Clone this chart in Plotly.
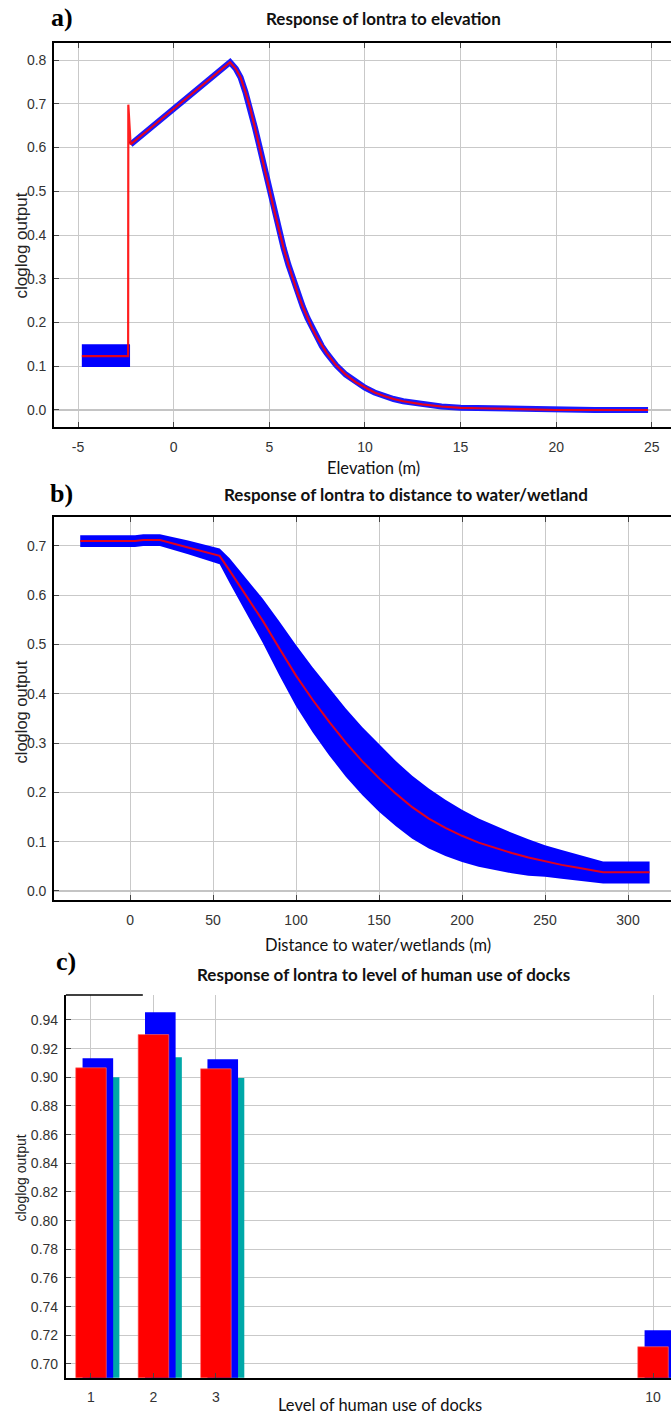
import plotly.graph_objects as go

W, H = 671, 1414

# ---------------- Panel a: elevation ----------------
elev_x = [-4.8, -2.38, -2.37, -2.25, -1.0, 0.0, 1.0, 2.0, 2.8, 2.95, 3.25, 3.5, 3.75, 4.0,
          4.25, 4.5, 4.75, 5.0, 5.25, 5.5, 5.75, 6.0, 6.25, 6.5, 6.75, 7.0, 7.25, 7.5, 7.75,
          8.0, 8.5, 9.0, 9.5, 10.0, 10.5, 11.0, 11.5, 12.0, 13.0, 14.0, 15.0, 16.0, 17.0,
          18.0, 19.0, 20.0, 22.0, 24.8]
elev_y = [0.123, 0.123, 0.698, 0.607, 0.652, 0.688, 0.724, 0.760, 0.789, 0.795, 0.780,
          0.760, 0.727, 0.690, 0.645, 0.600, 0.552, 0.505, 0.457, 0.412, 0.370, 0.332,
          0.297, 0.265, 0.236, 0.210, 0.186, 0.165, 0.146, 0.130, 0.102, 0.081, 0.064,
          0.051, 0.040, 0.032, 0.025, 0.020, 0.013, 0.008, 0.005, 0.004, 0.003, 0.003,
          0.001, 0.000, 0.000, 0.000]
elev_box_x = [-4.8, -2.28]
elev_box_lo = [0.098, 0.098]
elev_box_hi = [0.150, 0.150]
elev_ticks = [-5, 0, 5, 10, 15, 20, 25]

# ---------------- Panel b: distance to water ----------------
dist_x = [-30, 0, 3, 8, 18, 35, 54, 60, 70, 80, 90, 100, 110, 120, 130, 140, 150, 160,
          170, 180, 190, 200, 210, 220, 230, 240, 250, 260, 270, 280, 285, 300, 313]
dist_y = [0.710, 0.710, 0.710, 0.712, 0.712, 0.697, 0.680, 0.650, 0.600, 0.548, 0.492,
          0.437, 0.388, 0.343, 0.301, 0.263, 0.229, 0.198, 0.170, 0.147, 0.128, 0.112,
          0.098, 0.087, 0.077, 0.068, 0.060, 0.053, 0.047, 0.041, 0.038, 0.038, 0.038]
dist_lo = [0.698, 0.698, 0.698, 0.700, 0.700, 0.683, 0.663, 0.625, 0.565, 0.503, 0.437,
           0.375, 0.322, 0.275, 0.232, 0.194, 0.161, 0.132, 0.106, 0.086, 0.071, 0.059,
           0.049, 0.042, 0.036, 0.031, 0.029, 0.025, 0.021, 0.017, 0.015, 0.015, 0.015]
dist_hi = [0.722, 0.722, 0.722, 0.724, 0.724, 0.711, 0.695, 0.675, 0.635, 0.593, 0.547,
           0.499, 0.454, 0.411, 0.370, 0.332, 0.297, 0.264, 0.234, 0.208, 0.185, 0.165,
           0.147, 0.132, 0.118, 0.105, 0.093, 0.083, 0.074, 0.065, 0.060, 0.060, 0.060]
dist_ticks = [0, 50, 100, 150, 200, 250, 300]

# ---------------- Panel c: docks ----------------
dock_levels = [1, 2, 3, 10]
dock_mean = [0.9066, 0.9298, 0.9059, 0.7120]
dock_plus_sd = [0.9132, 0.9453, 0.9125, 0.7235]
dock_minus_sd = [0.9000, 0.9139, 0.8995, 0.7005]

RED = "rgba(255,0,0,0.88)"
BLUE = "#0000FF"
TEAL = "#00A8A8"
GRID = "#C9C9C9"
TICKF = dict(family="Liberation Sans, Arial, sans-serif", size=14, color="#333333")


def px(x):
    return x / W


def py(y):
    return 1 - y / H


fig = go.Figure()

# panel a traces
fig.add_trace(go.Scatter(x=elev_box_x, y=elev_box_lo, mode="lines", line=dict(width=0, color=BLUE),
                         xaxis="x", yaxis="y", showlegend=False, hoverinfo="skip"))
fig.add_trace(go.Scatter(x=elev_box_x, y=elev_box_hi, mode="lines", line=dict(width=0, color=BLUE),
                         fill="tonexty", fillcolor=BLUE, xaxis="x", yaxis="y", showlegend=False))
fig.add_trace(go.Scatter(x=elev_x[3:], y=elev_y[3:], mode="lines",
                         line=dict(width=6, color="rgb(25,25,255)"),
                         xaxis="x", yaxis="y", showlegend=False))
fig.add_trace(go.Scatter(x=elev_x, y=elev_y, mode="lines", line=dict(width=2.2, color=RED),
                         xaxis="x", yaxis="y", showlegend=False))

# panel b traces
fig.add_trace(go.Scatter(x=dist_x, y=dist_lo, mode="lines", line=dict(width=0, color=BLUE),
                         xaxis="x2", yaxis="y2", showlegend=False, hoverinfo="skip"))
fig.add_trace(go.Scatter(x=dist_x, y=dist_hi, mode="lines", line=dict(width=0, color=BLUE),
                         fill="tonexty", fillcolor=BLUE, xaxis="x2", yaxis="y2", showlegend=False))
fig.add_trace(go.Scatter(x=dist_x, y=dist_y, mode="lines", line=dict(width=2, color=RED),
                         xaxis="x2", yaxis="y2", showlegend=False))

# panel c bars (minus sd at back, plus sd, then mean in front)
BW = 0.49
fig.add_trace(go.Bar(x=dock_levels, y=dock_minus_sd, width=BW, offset=-0.035,
                     marker=dict(color=TEAL, line=dict(width=0)),
                     xaxis="x3", yaxis="y3", showlegend=False))
fig.add_trace(go.Bar(x=dock_levels, y=dock_plus_sd, width=BW, offset=-0.135,
                     marker=dict(color=BLUE, line=dict(width=0)),
                     xaxis="x3", yaxis="y3", showlegend=False))
fig.add_trace(go.Bar(x=dock_levels, y=dock_mean, width=BW, offset=-0.245,
                     marker=dict(color="#FF0000", line=dict(width=0.6, color="#FF7070")),
                     xaxis="x3", yaxis="y3", showlegend=False))

common_x = dict(showline=True, linecolor="black", linewidth=1.6, ticks="inside", ticklen=5,
                tickcolor="#444444", tickwidth=1, showgrid=True, gridcolor=GRID, gridwidth=1.2,
                zeroline=False, tickfont=TICKF, ticklabelstandoff=6)
common_y = dict(showline=True, linecolor="black", linewidth=1.6, ticks="inside", ticklen=5,
                tickcolor="#444444", tickwidth=1, showgrid=True, gridcolor=GRID, gridwidth=1.2,
                tickfont=TICKF, ticklabelstandoff=3)

ya = (py(427), py(43))
yb = (py(900), py(517))
yc = (py(1377.7), py(995))

fig.update_layout(
    width=W, height=H, margin=dict(l=0, r=0, t=0, b=0),
    paper_bgcolor="white", plot_bgcolor="white", barmode="overlay",
    xaxis=dict(domain=[px(54), 1], anchor="y", range=[-6.255, 26.0], mirror="ticks",
               tickvals=elev_ticks, ticktext=[str(v) for v in elev_ticks], **common_x),
    yaxis=dict(domain=list(ya), anchor="x", range=[-0.0389, 0.8389], dtick=0.1, tick0=0,
               tickformat=".1f", zeroline=True, zerolinecolor="#C4C4C4", zerolinewidth=2.4,
               **common_y),
    xaxis2=dict(domain=[px(54), 1], anchor="y2", range=[-45.8, 325.9], mirror="ticks",
                tickvals=dist_ticks, ticktext=[str(v) for v in dist_ticks], **common_x),
    yaxis2=dict(domain=list(yb), anchor="x2", range=[-0.0183, 0.7588], dtick=0.1, tick0=0,
                tickformat=".1f", zeroline=True, zerolinecolor="#C4C4C4", zerolinewidth=2.4,
                **common_y),
    xaxis3=dict(domain=[px(65.7), 1], anchor="y3", range=[0.595, 10.288],
                tickvals=dock_levels, ticktext=[str(v) for v in dock_levels], **common_x),
    xaxis4=dict(domain=[px(65.7), 1], anchor="y3", overlaying="x3", side="top",
                range=[0.595, 10.288], tickvals=dock_levels, ticks="inside", ticklen=5,
                tickcolor="#222222", showticklabels=False, showgrid=False, showline=False,
                zeroline=False),
    yaxis3=dict(domain=list(yc), anchor="x3", range=[0.6904, 0.9574], dtick=0.02, tick0=0.70,
                tickformat=".2f", zeroline=False, **common_y),
)

# partial top border of panel c
fig.add_shape(type="line", xref="x3", yref="paper", x0=0.595, x1=1.83, y0=yc[1], y1=yc[1],
              line=dict(color="black", width=1.6))

ann = []
LABF = dict(family="Liberation Serif, Times New Roman, serif", size=26, color="black", weight="bold")
TITF = dict(family="Lato, Open Sans, sans-serif", size=17, color="#111111", weight="bold")
AXF = dict(family="Lato, Open Sans, sans-serif", size=16.5, color="#111111")

for txt, x, y in [("a)", 62, 17), ("b)", 61, 494), ("c)", 66, 961)]:
    ann.append(dict(text=txt, x=px(x), y=py(y), xref="paper", yref="paper", showarrow=False,
                    xanchor="center", yanchor="middle", font=LABF))
for txt, x, y in [("Response of lontra to elevation", 383, 19),
                  ("Response of lontra to distance to water/wetland", 406, 495),
                  ("Response of lontra to level of human use of docks", 383, 974)]:
    ann.append(dict(text=txt, x=px(x), y=py(y), xref="paper", yref="paper", showarrow=False,
                    xanchor="center", yanchor="middle", font=TITF))
for txt, x, y in [("Elevation (m)", 374, 468),
                  ("Distance to water/wetlands (m)", 378, 945),
                  ("Level of human use of docks", 380, 1405)]:
    ann.append(dict(text=txt, x=px(x), y=py(y), xref="paper", yref="paper", showarrow=False,
                    xanchor="center", yanchor="middle", font=AXF))
for y, s in [(246, 17), (712, 16.5), (1178, 14)]:
    ann.append(dict(text="cloglog output", x=px(20.5), y=py(y), xref="paper", yref="paper",
                    showarrow=False, xanchor="center", yanchor="middle", textangle=-90,
                    font=dict(family="Liberation Sans, Arial, sans-serif", size=s, color="#222222")))

fig.update_layout(annotations=ann)

fig.write_html("out.html")
